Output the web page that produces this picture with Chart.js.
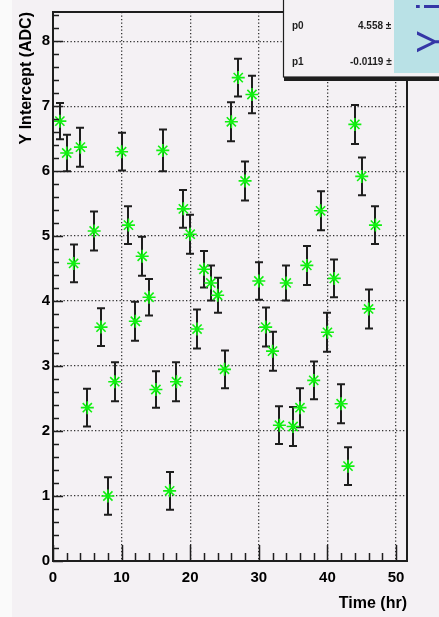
<!DOCTYPE html>
<html>
<head>
<meta charset="utf-8">
<script src="https://cdn.jsdelivr.net/npm/chart.js@4.4.0/dist/chart.umd.min.js"></script>
<style>
  html, body { margin: 0; padding: 0; background: #f4f1f4; }
  #wrap { width: 439px; height: 617px; }
</style>
</head>
<body>
<div id="wrap"><canvas id="c" width="439" height="617"></canvas></div>
<script>
// measured intercept per hour
const hours = [1, 2, 3, 4, 5, 6, 7, 8, 9, 10, 11, 12, 13, 14, 15, 16, 17, 18, 19, 20, 21, 22, 23, 24,
               25, 26, 27, 28, 29, 30, 31, 32, 33, 34, 35, 36, 37, 38, 39, 40, 41, 42, 43, 44, 45, 46, 47];
const intercepts = [6.77, 6.28, 4.58, 6.37, 2.36, 5.08, 3.60, 1.00, 2.76, 6.30, 5.17, 3.69, 4.69, 4.06,
                    2.64, 6.32, 1.08, 2.76, 5.42, 5.03, 3.57, 4.49, 4.28, 4.09, 2.95, 6.76, 7.44, 5.85,
                    7.18, 4.31, 3.60, 3.23, 2.09, 4.28, 2.07, 2.36, 4.55, 2.78, 5.39, 3.52, 4.35, 2.42,
                    1.46, 6.72, 5.92, 3.88, 5.17];
const interceptErrors = [0.28, 0.28, 0.29, 0.30, 0.29, 0.30, 0.29, 0.29, 0.30, 0.29, 0.29, 0.30, 0.30, 0.28,
                         0.28, 0.32, 0.29, 0.30, 0.29, 0.30, 0.30, 0.28, 0.27, 0.27, 0.29, 0.30, 0.29, 0.30,
                         0.29, 0.29, 0.30, 0.30, 0.29, 0.27, 0.30, 0.30, 0.30, 0.29, 0.30, 0.30, 0.29, 0.30,
                         0.29, 0.30, 0.29, 0.30, 0.29];

const xTickLabels = [0, 10, 20, 30, 40, 50];
const yTickLabels = [0, 1, 2, 3, 4, 5, 6, 7, 8];
const xMinorStep = 2;
const yMinorStep = 0.2;

const fitNames = ['p0', 'p1'];
const fitValues = ['4.558 \u00b1 0.1', '-0.0119 \u00b1 0.004'];

const BG = '#f4f1f4';
const INK = '#1e1e1e';
const tickFont = { family: 'Liberation Sans, Arial, sans-serif', size: 15, weight: 'bold' };
const titleFont = { family: 'Liberation Sans, Arial, sans-serif', size: 16, weight: 'bold' };

const background = {
  id: 'background',
  beforeDraw(chart) {
    const ctx = chart.ctx;
    ctx.save();
    ctx.fillStyle = BG;
    ctx.fillRect(0, 0, chart.width, chart.height);
    ctx.fillStyle = '#fafafa';
    ctx.fillRect(0, 0, 12, chart.height);
    ctx.restore();
  }
};

const errorBars = {
  id: 'errorBars',
  beforeDatasetsDraw(chart) {
    const { ctx, scales: { x, y } } = chart;
    ctx.save();
    ctx.strokeStyle = INK;
    ctx.lineWidth = 2;
    ctx.beginPath();
    hours.forEach((h, i) => {
      const px = Math.round(x.getPixelForValue(h));
      const top = y.getPixelForValue(intercepts[i] + interceptErrors[i]);
      const bot = y.getPixelForValue(intercepts[i] - interceptErrors[i]);
      ctx.moveTo(px, top); ctx.lineTo(px, bot);
      ctx.moveTo(px - 4, top); ctx.lineTo(px + 4, top);
      ctx.moveTo(px - 4, bot); ctx.lineTo(px + 4, bot);
    });
    ctx.stroke();
    ctx.restore();
  }
};

const frameAndTicks = {
  id: 'frameAndTicks',
  afterDraw(chart) {
    const { ctx, chartArea: a, scales: { x, y } } = chart;
    ctx.save();
    ctx.strokeStyle = INK;
    ctx.lineWidth = 1.5;
    ctx.beginPath();
    for (let i = 0; i * xMinorStep <= x.max + 1e-9; i++) {
      const px = Math.round(x.getPixelForValue(i * xMinorStep)) + 0.5;
      const len = i % 5 === 0 ? 16 : 8;
      ctx.moveTo(px, a.bottom); ctx.lineTo(px, a.bottom - len);
    }
    for (let i = 0; i * yMinorStep <= y.max + 1e-9; i++) {
      const py = Math.round(y.getPixelForValue(i * yMinorStep)) + 0.5;
      const len = i % 5 === 0 ? 10 : 6;
      ctx.moveTo(a.left, py); ctx.lineTo(a.left + len, py);
    }
    ctx.stroke();
    ctx.lineWidth = 2;
    ctx.strokeRect(a.left, a.top, a.right - a.left, a.bottom - a.top);

    // fit statistics box, cut off at the top right
    ctx.fillStyle = BG;
    ctx.fillRect(283, -2, 170, 80);
    ctx.fillStyle = INK;
    ctx.fillRect(284, 77, 170, 4);
    ctx.lineWidth = 1.2;
    ctx.strokeRect(283.5, -2, 170, 79);
    ctx.font = 'bold 10px Liberation Sans, Arial, sans-serif';
    ctx.textBaseline = 'alphabetic';
    fitNames.forEach((n, i) => {
      const by = 29 + i * 36;
      ctx.fillText(n, 292, by);
      ctx.fillText(fitValues[i], i === 0 ? 358 : 350, by);
    });
    ctx.fillStyle = '#b9e1e6';
    ctx.fillRect(394, 0, 50, 73);
    ctx.beginPath();
    ctx.rect(394, 0, 50, 73);
    ctx.clip();
    ctx.translate(448, 53);
    ctx.rotate(-Math.PI / 2);
    ctx.scale(0.75, 1);
    ctx.fillStyle = '#3436a6';
    ctx.font = '45px Liberation Sans, Arial, sans-serif';
    ctx.fillText('Y', 0, 0);
    ctx.fillText('i', 57, 0);
    ctx.restore();
  }
};

new Chart(document.getElementById('c'), {
  type: 'scatter',
  data: {
    datasets: [{
      data: hours.map((h, i) => ({ x: h, y: intercepts[i] })),
      pointStyle: 'star',
      radius: 6.5,
      borderColor: '#10f010',
      backgroundColor: '#10f010',
      borderWidth: 1.6
    }]
  },
  options: {
    responsive: false,
    animation: false,
    devicePixelRatio: 1,
    layout: { padding: { left: 0, right: 32, top: 6, bottom: 0 } },
    plugins: { legend: { display: false }, tooltip: { enabled: false } },
    scales: {
      x: {
        type: 'linear',
        min: 0,
        max: 51.6,
        afterFit(s) { s.height = 56; },
        afterBuildTicks(s) { s.ticks = xTickLabels.map(v => ({ value: v })); },
        ticks: { font: tickFont, color: '#000', padding: 8, maxRotation: 0, autoSkip: false,
                 callback: v => String(v) },
        grid: { color: '#333', lineWidth: 1.3, drawTicks: false },
        border: { display: false, dash: [1.3, 2.2] },
        title: { display: true, text: 'Time (hr)', align: 'end', color: '#000', font: titleFont,
                 padding: { top: 0, bottom: 4 } }
      },
      y: {
        type: 'linear',
        min: 0,
        max: 8.45,
        afterFit(s) { s.width = 53; },
        afterBuildTicks(s) { s.ticks = yTickLabels.map(v => ({ value: v })); },
        ticks: { font: tickFont, color: '#000', padding: 3, autoSkip: false,
                 callback: v => String(v) },
        grid: { color: '#333', lineWidth: 1.3, drawTicks: false },
        border: { display: false, dash: [1.3, 2.2] },
        title: { display: true, text: 'Y Intercept (ADC)', align: 'end', color: '#000', font: titleFont,
                 padding: { top: 17, bottom: 0 } }
      }
    }
  },
  plugins: [background, errorBars, frameAndTicks]
});
</script>
</body>
</html>
